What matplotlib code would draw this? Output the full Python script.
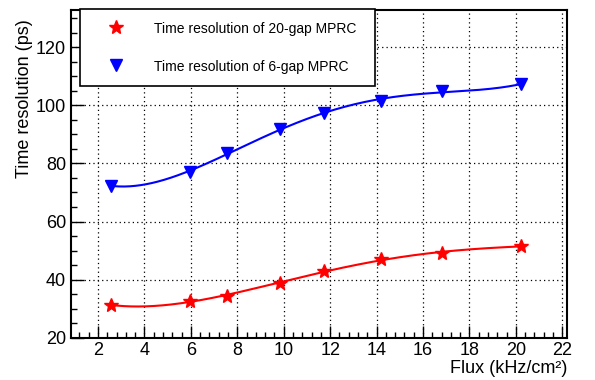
import numpy as np
import matplotlib
matplotlib.use("Agg")
import matplotlib.pyplot as plt

plt.rcParams['font.family'] = ['Liberation Sans', 'DejaVu Sans']

# measured points
flux = [2.55, 5.95, 7.55, 9.85, 11.75, 14.2, 16.8, 20.2]
res_20gap = [31.2, 32.8, 34.3, 38.9, 42.8, 47.1, 49.2, 51.5]
res_6gap = [72.4, 76.9, 83.6, 92.0, 97.4, 101.5, 105.0, 107.2]

label_20gap = "Time resolution of 20-gap MPRC"
label_6gap = "Time resolution of 6-gap MPRC"


def smooth_curve(x, y, deg=4, n=300):
    # smooth polynomial trend through the points
    p = np.polyfit(x, y, deg)
    xs = np.linspace(min(x), max(x), n)
    return xs, np.polyval(p, xs)


fig = plt.figure(figsize=(5.95, 3.8), dpi=100)
ax = fig.add_axes([71 / 595, 42.3 / 380, 496 / 595, 328.2 / 380])

xs, ys = smooth_curve(flux, res_20gap)
ax.plot(xs, ys, color='red', lw=1.5, zorder=2)
ax.plot(flux, res_20gap, ls='none', marker='*', ms=10, color='red', label=label_20gap, zorder=3)

xs, ys = smooth_curve(flux, res_6gap)
ax.plot(xs, ys, color='blue', lw=1.5, zorder=2)
ax.plot(flux, res_6gap, ls='none', marker='v', ms=9, color='blue', label=label_6gap, zorder=3)

ax.set_xlim(0.84, 22.2)
ax.set_ylim(20, 133)
ax.set_xticks(np.arange(2, 23, 2))
ax.set_xticks(np.arange(1.2, 22.2, 0.4), minor=True)
ax.set_yticks(np.arange(20, 121, 20))
ax.set_yticks(np.arange(20, 133, 5), minor=True)
ax.tick_params(which='both', direction='in', labelsize=13, width=1)
ax.tick_params(which='major', length=9)
ax.tick_params(which='minor', length=4.5)
ax.tick_params(axis='x', pad=3)
ax.grid(True, which='major', ls=(0, (1, 2.5)), color='black', lw=0.9)
for s in ax.spines.values():
    s.set_linewidth(1.5)

ax.set_xlabel("Flux (kHz/cm²)", fontsize=13, loc='right', labelpad=1)
ax.set_ylabel("Time resolution (ps)", fontsize=13, loc='top')
ax.yaxis.set_label_coords(-0.077, 0.97)

leg = ax.legend(loc='upper left', mode='expand',
                bbox_to_anchor=(80 / 595, 1 - 86 / 380, 295 / 595, 77 / 380),
                bbox_transform=fig.transFigure, borderaxespad=0, fancybox=False,
                edgecolor='black', framealpha=1, fontsize=10, handlelength=3.4,
                handletextpad=1.0, borderpad=0.9, labelspacing=1.75,
                handleheight=1)
leg.get_frame().set_linewidth(1.2)

fig.savefig("out.png", dpi=100)
